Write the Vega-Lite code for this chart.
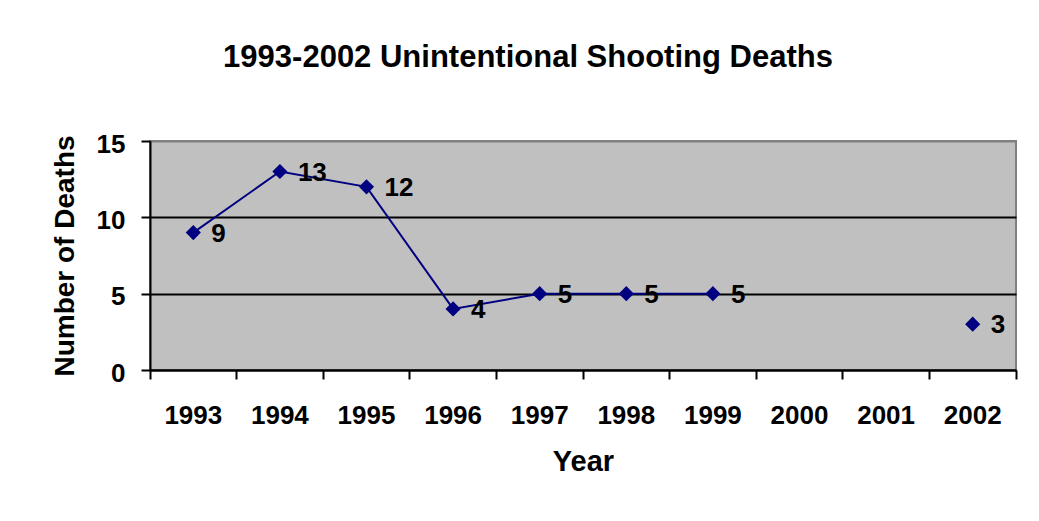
{
  "$schema": "https://vega.github.io/schema/vega-lite/v6.json",
  "width": 866,
  "height": 229,
  "autosize": {"type": "none"},
  "padding": {"left": 150, "top": 141, "right": 23, "bottom": 151},
  "background": "white",
  "title": {
    "text": "1993-2002 Unintentional Shooting Deaths",
    "font": "Liberation Sans",
    "fontSize": 31,
    "fontWeight": "bold",
    "color": "black",
    "anchor": "middle",
    "frame": "group",
    "dx": -55,
    "offset": 57
  },
  "config": {
    "view": {"stroke": "#808080", "strokeWidth": 2, "fill": "#C0C0C0"}
  },
  "data": {
    "values": [
      {"year": "1993", "deaths": 9},
      {"year": "1994", "deaths": 13},
      {"year": "1995", "deaths": 12},
      {"year": "1996", "deaths": 4},
      {"year": "1997", "deaths": 5},
      {"year": "1998", "deaths": 5},
      {"year": "1999", "deaths": 5},
      {"year": "2000", "deaths": null},
      {"year": "2001", "deaths": null},
      {"year": "2002", "deaths": 3}
    ]
  },
  "encoding": {
    "x": {
      "field": "year",
      "type": "ordinal",
      "scale": {
        "type": "band",
        "domain": ["1993", "1994", "1995", "1996", "1997", "1998", "1999", "2000", "2001", "2002"],
        "paddingInner": 0,
        "paddingOuter": 0
      },
      "axis": {
        "title": "Year",
        "labelAngle": 0,
        "bandPosition": 1,
        "tickExtra": true,
        "tickSize": 9,
        "tickWidth": 2,
        "tickColor": "black",
        "domainColor": "black",
        "domainWidth": 2,
        "grid": false,
        "labelFont": "Liberation Sans",
        "labelFontSize": 26,
        "labelFontWeight": "bold",
        "labelColor": "black",
        "labelBaseline": "alphabetic",
        "labelPadding": 44,
        "labelOverlap": false,
        "labelBound": false,
        "labelFlush": false,
        "titleFont": "Liberation Sans",
        "titleFontSize": 29,
        "titleFontWeight": "bold",
        "titleColor": "black",
        "titlePadding": 19
      }
    },
    "y": {
      "field": "deaths",
      "type": "quantitative",
      "scale": {"domain": [0, 15], "nice": false, "zero": true},
      "axis": {
        "title": "Number of Deaths",
        "values": [0, 5, 10, 15],
        "tickSize": 9,
        "tickWidth": 2,
        "tickColor": "black",
        "domainColor": "black",
        "domainWidth": 2,
        "grid": true,
        "gridColor": {"condition": {"test": "datum.value === 15", "value": "#808080"}, "value": "black"},
        "gridWidth": 2,
        "gridOpacity": 1,
        "labelFont": "Liberation Sans",
        "labelFontSize": 26,
        "labelFontWeight": "bold",
        "labelColor": "black",
        "labelPadding": 16,
        "labelOffset": 3,
        "labelBound": false,
        "labelFlush": false,
        "titleFont": "Liberation Sans",
        "titleFontSize": 28,
        "titleFontWeight": "bold",
        "titleColor": "black",
        "titlePadding": 17
      }
    }
  },
  "layer": [
    {
      "mark": {"type": "line", "color": "#000080", "strokeWidth": 2, "invalid": "break-paths-show-domains"}
    },
    {
      "mark": {"type": "point", "shape": "diamond", "filled": true, "size": 230, "color": "#000080", "opacity": 1}
    },
    {
      "mark": {
        "type": "text",
        "align": "left",
        "baseline": "middle",
        "dx": 18,
        "dy": 1,
        "font": "Liberation Sans",
        "fontSize": 26,
        "fontWeight": "bold",
        "color": "black"
      },
      "encoding": {"text": {"field": "deaths", "type": "quantitative"}}
    }
  ]
}
